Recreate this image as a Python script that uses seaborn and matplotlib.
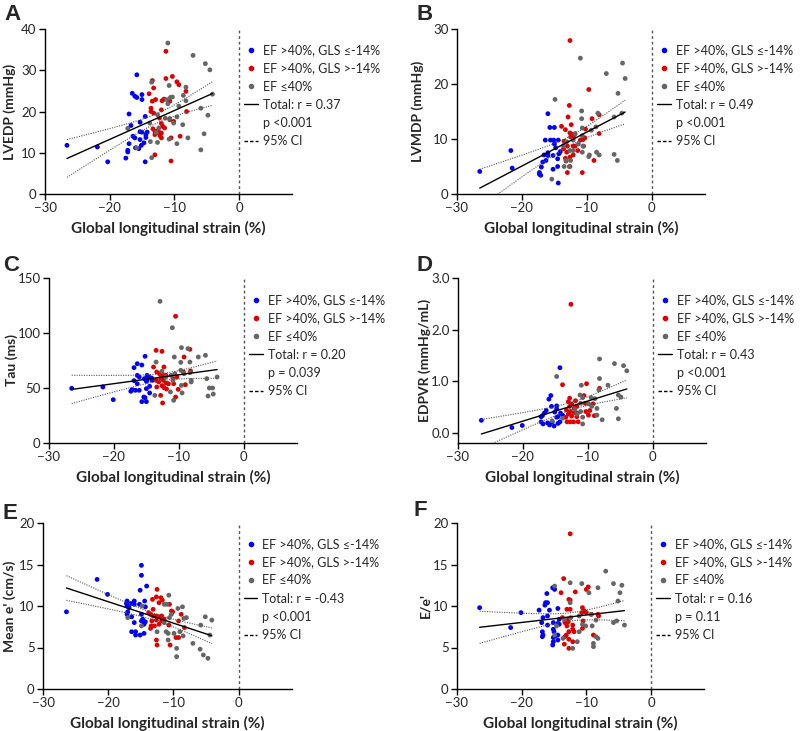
import numpy as np
import pandas as pd
import matplotlib
matplotlib.use("Agg")
import matplotlib.pyplot as plt
import seaborn as sns
from matplotlib.lines import Line2D

sns.set_style("ticks")
plt.rcParams['font.family'] = ['Lato', 'DejaVu Sans']

# ---------------- data ----------------
# Panel A: LVEDP (mmHg)
A_blue_x = [-26.6, -21.9, -20.3, -15.8, -16.5, -16.1, -15.8, -15.0, -15.0, -17.0, -16.7, -14.5, -15.3, -16.4, -16.1,
            -15.3, -15.0, -14.2, -14.4, -14.4, -15.3, -15.1, -14.7, -17.0, -17.2, -16.0, -17.2, -17.5, -14.5, -15.5]
A_blue_y = [11.8, 11.4, 7.8, 28.9, 24.4, 23.7, 23.4, 24.1, 22.9, 19.4, 16.6, 18.8, 17.4, 14.0, 13.6,
            15.1, 15.0, 15.0, 14.4, 13.7, 13.2, 11.8, 12.4, 12.2, 10.6, 11.2, 10.2, 8.7, 7.8, 11.0]
A_red_x = [-11.3, -11.3, -13.4, -13.2, -10.3, -9.6, -9.3, -8.2, -13.9, -13.4, -12.9, -11.6, -11.9, -10.7, -13.6,
           -13.6, -13.2, -12.0, -12.3, -10.7, -10.1, -8.1, -12.0, -11.8, -11.5, -13.3, -13.0, -12.5, -12.4, -12.0,
           -13.0, -12.2, -12.0, -10.5, -9.1, -13.0, -10.5]
A_red_y = [34.6, 28.0, 27.5, 25.7, 28.5, 27.2, 26.5, 24.9, 24.3, 22.5, 22.9, 23.0, 22.6, 22.5, 20.8,
           20.0, 19.6, 20.4, 18.4, 18.0, 17.6, 20.0, 17.1, 16.4, 16.0, 15.8, 15.2, 15.4, 14.8, 14.8,
           14.4, 14.1, 13.6, 13.6, 14.0, 9.5, 8.0]
A_grey_x = [-11.0, -7.1, -5.2, -4.5, -4.1, -8.2, -13.5, -10.8, -8.6, -10.3, -10.6, -11.2, -11.0, -8.2, -9.3,
            -5.9, -12.6, -4.8, -9.6, -11.4, -10.7, -10.1, -8.7, -13.8, -17.2, -12.4, -12.8, -5.4, -7.9, -10.8,
            -12.6, -9.6, -13.7, -15.8, -5.9, -13.5]
A_grey_y = [36.6, 33.6, 31.6, 30.1, 24.2, 25.9, 27.1, 26.3, 23.9, 23.5, 23.4, 22.9, 21.9, 22.6, 21.3,
            20.8, 19.2, 19.1, 18.7, 18.4, 18.3, 17.2, 16.8, 17.2, 15.9, 16.0, 14.9, 14.6, 13.6, 13.3,
            12.5, 12.2, 12.7, 11.2, 10.7, 8.8]

# Panel B: LVMDP (mmHg)
B_blue_x = [-26.5, -21.7, -21.5, -16.0, -15.7, -15.0, -16.4, -15.6, -15.1, -14.4, -15.0, -14.8, -14.1, -14.3, -16.0,
            -16.0, -16.6, -15.2, -16.3, -16.8, -17.0, -14.5, -14.5, -15.2, -17.3, -17.1, -17.3, -14.4]
B_blue_y = [4.1, 7.9, 4.7, 14.6, 12.1, 12.1, 9.8, 9.8, 9.8, 9.8, 9.1, 8.4, 7.7, 7.3, 7.5,
            7.0, 7.1, 7.0, 6.1, 5.8, 4.9, 6.4, 5.0, 4.5, 3.9, 3.4, 3.6, 2.0]
B_red_x = [-12.6, -9.7, -12.7, -12.4, -12.9, -13.9, -13.3, -12.6, -12.3, -11.9, -12.5, -12.1, -10.2, -9.2, -8.1,
           -8.1, -10.3, -10.6, -13.5, -13.0, -12.1, -11.8, -13.6, -10.5, -13.1, -12.1, -12.6, -13.3, -13.2, -12.6,
           -13.0, -10.7, -8.9, -11.4, -11.0]
B_red_y = [27.9, 19.0, 16.1, 12.6, 14.0, 12.3, 11.7, 11.1, 10.9, 10.8, 10.4, 10.3, 11.8, 13.7, 14.4,
           11.0, 10.2, 9.9, 9.6, 8.7, 8.7, 8.7, 8.2, 8.7, 7.6, 7.1, 6.7, 6.5, 6.0, 5.0,
           3.9, 3.9, 6.1, 7.9, 9.8]
B_grey_x = [-11.0, -7.0, -4.5, -4.1, -5.2, -4.6, -5.8, -14.9, -10.8, -8.3, -10.8, -10.7, -8.6, -9.3, -11.8,
            -10.7, -13.6, -11.3, -10.6, -12.6, -12.1, -10.7, -8.5, -8.1, -9.6, -9.7, -5.8, -5.3, -13.2, -12.5,
            -13.5, -12.7, -15.4, -13.1, -12.1]
B_grey_y = [24.7, 21.9, 23.8, 21.0, 18.3, 14.7, 14.0, 17.2, 15.1, 14.7, 13.7, 12.0, 12.2, 11.6, 11.0,
            10.6, 8.8, 9.1, 8.7, 7.9, 7.9, 7.6, 7.6, 7.1, 7.1, 6.8, 7.2, 6.1, 6.1, 6.1,
            5.0, 5.0, 2.7, 9.5, 9.8]

# Panel C: Tau (ms)
C_blue_x = [-26.5, -21.7, -20.1, -15.2, -16.4, -15.7, -16.9, -16.4, -16.1, -14.9, -14.6, -14.9, -14.2, -15.3, -15.0,
            -14.1, -16.9, -16.4, -14.5, -15.0, -17.2, -17.4, -16.7, -16.1, -14.5, -15.4, -15.2, -15.7, -15.0]
C_blue_y = [49.7, 50.9, 39.4, 78.8, 72.1, 70.9, 68.5, 61.5, 60.0, 61.5, 60.0, 57.0, 59.1, 58.5, 56.1,
            57.0, 56.7, 53.9, 51.5, 49.4, 48.5, 47.0, 47.9, 47.9, 45.5, 41.8, 41.2, 37.6, 37.6]
C_red_x = [-10.5, -13.5, -12.6, -8.3, -13.9, -12.3, -13.4, -13.0, -12.5, -12.0, -12.8, -13.5, -13.1, -12.4, -12.0,
           -11.6, -12.6, -13.4, -12.3, -11.9, -10.8, -10.9, -10.3, -9.3, -9.2, -9.0, -8.2, -10.1, -12.8, -10.5,
           -12.5]
C_red_y = [115.2, 84.2, 83.3, 85.2, 69.1, 69.1, 64.5, 63.0, 61.5, 61.5, 59.1, 57.0, 55.5, 57.0, 54.5,
           53.9, 52.1, 50.9, 50.3, 49.1, 53.9, 58.5, 60.0, 64.5, 78.2, 53.0, 65.5, 48.8, 43.3, 41.8,
           36.4]
C_grey_x = [-12.9, -11.0, -9.6, -8.6, -7.0, -5.9, -10.7, -13.5, -9.7, -8.3, -9.7, -8.3, -11.2, -10.6, -12.0,
            -9.2, -10.9, -8.1, -5.7, -4.1, -9.6, -11.3, -9.5, -10.8, -13.7, -5.3, -4.8, -5.5, -4.7, -12.6,
            -8.1]
C_grey_y = [128.8, 104.8, 86.7, 85.8, 78.2, 79.7, 78.2, 73.6, 73.3, 73.6, 66.1, 63.9, 61.5, 63.0, 60.0,
            63.0, 57.0, 57.0, 58.5, 60.0, 52.4, 46.4, 45.5, 38.8, 43.3, 50.0, 50.0, 42.7, 44.5, 65.2,
            55.5]

# Panel D: EDPVR (mmHg/mL)
D_blue_x = [-26.4, -21.7, -20.1, -14.3, -15.7, -16.0, -15.6, -16.4, -16.7, -17.0, -14.8, -14.8, -15.1, -14.2, -13.9,
            -14.8, -17.2, -16.9, -16.2, -15.9, -15.5, -15.2, -14.6, -14.3, -14.6, -17.2]
D_blue_y = [0.24, 0.10, 0.14, 1.26, 0.72, 0.65, 0.51, 0.43, 0.38, 0.33, 0.52, 0.46, 0.40, 0.38, 0.34,
            0.30, 0.21, 0.17, 0.19, 0.15, 0.21, 0.13, 0.18, 0.21, 0.31, 0.31]
D_red_x = [-12.6, -13.9, -10.2, -8.2, -10.6, -10.4, -9.2, -12.8, -13.0, -11.9, -12.5, -12.8, -12.1, -11.7, -13.3,
           -12.7, -12.1, -11.6, -13.0, -12.5, -11.7, -9.7, -10.3, -9.9, -9.0, -13.4, -13.2, -12.7, -12.2, -11.5]
D_red_y = [2.49, 0.93, 0.95, 0.86, 0.72, 0.57, 0.56, 0.67, 0.60, 0.62, 0.56, 0.51, 0.47, 0.51, 0.44,
           0.41, 0.39, 0.38, 0.36, 0.32, 0.31, 0.43, 0.41, 0.34, 0.33, 0.30, 0.21, 0.21, 0.21, 0.21]
D_grey_x = [-14.8, -8.2, -5.9, -4.5, -4.0, -8.2, -11.0, -6.9, -8.3, -11.2, -10.8, -9.5, -8.9, -5.3, -4.9,
            -11.1, -9.9, -9.4, -8.6, -5.6, -12.0, -11.1, -10.8, -8.6, -13.9, -15.5, -11.7, -7.8, -5.3, -10.8]
D_grey_y = [1.09, 1.43, 1.34, 1.30, 1.20, 1.05, 0.92, 0.92, 0.83, 0.73, 0.68, 0.68, 0.66, 0.73, 0.69,
            0.57, 0.56, 0.51, 0.47, 0.47, 0.45, 0.41, 0.30, 0.34, 0.28, 0.23, 0.36, 0.25, 0.27, 0.17]

# Panel E: Mean e' (cm/s)
E_blue_x = [-26.4, -21.7, -20.1, -14.9, -14.9, -14.1, -15.1, -17.1, -16.0, -17.2, -16.5, -16.0, -15.2, -14.4, -17.1,
            -16.8, -14.3, -17.0, -17.1, -14.9, -14.7, -16.4, -14.9, -14.3, -14.5, -16.0, -16.4, -15.8, -15.8, -15.1,
            -14.5]
E_blue_y = [9.3, 13.2, 11.4, 14.9, 13.7, 12.4, 11.9, 10.6, 10.6, 10.3, 10.3, 10.2, 10.2, 10.6, 10.0,
            9.8, 9.9, 9.3, 9.0, 9.0, 8.4, 8.7, 8.2, 8.1, 7.8, 8.0, 6.9, 6.9, 6.5, 6.5,
            6.7]
E_red_x = [-12.5, -12.6, -11.9, -13.2, -11.7, -12.2, -10.6, -13.1, -10.3, -10.1, -8.8, -13.8, -13.5, -13.1, -12.6,
           -12.2, -11.8, -13.3, -12.6, -11.4, -11.8, -9.2, -12.2, -13.4, -12.9, -13.5, -10.7, -8.3, -12.6, -12.5,
           -10.5, -9.6, -9.2]
E_red_y = [12.0, 11.1, 11.0, 10.8, 10.7, 10.4, 10.2, 9.6, 9.4, 9.3, 9.0, 9.2, 9.0, 8.8, 8.8,
           8.7, 8.8, 8.2, 8.3, 8.4, 8.2, 8.2, 7.8, 7.6, 7.6, 7.3, 7.7, 7.4, 5.9, 5.3,
           5.3, 6.2, 6.2]
E_grey_x = [-17.0, -14.8, -14.9, -10.7, -11.4, -11.0, -9.3, -8.6, -10.3, -8.4, -8.0, -11.4, -10.6, -12.5, -11.1,
            -10.8, -9.9, -8.5, -9.0, -5.8, -5.1, -4.1, -4.4, -7.0, -5.9, -5.4, -4.7, -9.5, -9.5, -10.8]
E_grey_y = [8.6, 10.0, 7.6, 11.3, 10.2, 10.2, 9.7, 9.9, 9.0, 8.5, 8.6, 8.0, 8.6, 6.9, 6.9,
            6.7, 6.7, 6.4, 6.9, 7.7, 8.7, 8.3, 6.5, 5.5, 4.8, 4.1, 3.7, 4.9, 3.9, 5.9]

# Panel F: E/e'
F_blue_x = [-26.5, -21.7, -20.1, -15.2, -14.9, -16.1, -16.3, -16.0, -16.4, -17.3, -15.7, -14.4, -16.7, -16.0, -14.2,
            -16.9, -16.0, -15.1, -14.4, -14.2, -15.1, -15.0, -16.8, -16.7, -16.8, -14.8, -15.1, -14.4, -14.4, -15.1,
            -15.2]
F_blue_y = [9.8, 7.4, 9.2, 12.2, 12.0, 11.5, 10.4, 10.4, 10.1, 9.5, 9.5, 9.7, 8.6, 8.8, 8.4,
            8.0, 7.7, 8.0, 7.9, 7.8, 7.2, 6.9, 6.9, 6.5, 6.3, 6.4, 6.2, 6.5, 5.9, 5.7,
            5.3]
F_red_x = [-12.5, -13.5, -13.9, -9.7, -10.0, -11.7, -12.7, -12.5, -13.0, -12.5, -10.6, -10.3, -10.7, -10.0, -9.2,
           -8.2, -8.1, -13.7, -13.0, -13.3, -12.8, -12.1, -13.0, -10.5, -10.6, -12.1, -11.9, -12.7, -13.1, -13.3,
           -12.7, -12.1, -13.4, -12.7, -8.9]
F_red_y = [18.7, 13.3, 11.6, 12.3, 12.0, 11.7, 10.8, 10.7, 9.6, 9.6, 9.8, 9.4, 9.2, 9.2, 9.0,
           9.0, 8.8, 8.6, 8.4, 8.0, 8.1, 7.7, 7.6, 8.2, 7.3, 7.2, 6.9, 6.9, 6.5, 6.3,
           6.0, 5.7, 5.4, 4.9, 6.5]
F_grey_x = [-12.5, -10.7, -7.0, -5.8, -4.5, -4.8, -8.2, -9.6, -14.9, -5.1, -12.5, -13.4, -12.4, -11.1, -9.3,
            -10.6, -10.1, -11.1, -11.4, -12.1, -8.9, -8.9, -8.5, -8.2, -8.5, -5.8, -5.3, -4.1, -14.6, -14.9,
            -13.6, -9.1]
F_grey_y = [12.8, 12.7, 14.2, 12.7, 12.5, 11.6, 12.2, 11.6, 12.4, 10.6, 10.4, 8.4, 8.6, 8.8, 9.0,
            7.8, 7.6, 6.9, 5.7, 4.9, 5.5, 5.1, 6.3, 6.1, 8.3, 8.0, 8.2, 7.7, 7.6, 6.5,
            6.1, 7.6]

group_names = ["EF >40%, GLS \u2264-14%", "EF >40%, GLS >-14%", "EF \u226440%"]
group_colors = ["#0000FF", "#E00000", "#666666"]

panel_letters = ["A", "B", "C", "D", "E", "F"]
y_labels = ["LVEDP (mmHg)", "LVMDP (mmHg)", "Tau (ms)", "EDPVR (mmHg/mL)", "Mean e' (cm/s)", "E/e'"]
y_limits = [(0, 40), (0, 30), (0, 150), (-0.2, 3.0), (0, 20), (0, 20)]
y_ticks = [[0, 10, 20, 30, 40], [0, 10, 20, 30], [0, 50, 100, 150], [0.0, 1.0, 2.0, 3.0],
           [0, 5, 10, 15, 20], [0, 5, 10, 15, 20]]
r_labels = ["Total: r = 0.37", "Total: r = 0.49", "Total: r = 0.20", "Total: r = 0.43",
            "Total: r = -0.43", "Total: r = 0.16"]
p_labels = ["p <0.001", "p <0.001", "p = 0.039", "p <0.001", "p <0.001", "p = 0.11"]
x_ticks = [-30, -20, -10, 0]
x_label = "Global longitudinal strain (%)"

panel_data = [
    (A_blue_x, A_blue_y, A_red_x, A_red_y, A_grey_x, A_grey_y),
    (B_blue_x, B_blue_y, B_red_x, B_red_y, B_grey_x, B_grey_y),
    (C_blue_x, C_blue_y, C_red_x, C_red_y, C_grey_x, C_grey_y),
    (D_blue_x, D_blue_y, D_red_x, D_red_y, D_grey_x, D_grey_y),
    (E_blue_x, E_blue_y, E_red_x, E_red_y, E_grey_x, E_grey_y),
    (F_blue_x, F_blue_y, F_red_x, F_red_y, F_grey_x, F_grey_y),
]

# ---------------- layout ----------------
W, H = 800, 731
fig = plt.figure(figsize=(W / 100, H / 100), dpi=100)
# axes boxes in pixels: left, top, right, bottom
boxes = [(45, 29, 292, 194), (457, 29, 705, 194),
         (49, 278, 297, 443), (458, 278, 706, 443),
         (43, 523, 292, 689), (457, 523, 704, 689)]
letter_pos = [(4, 4), (416, 4), (3, 255), (416, 255), (3, 503), (414, 500)]
ylabel_right = [16, 424, 18, 431, 16, 431]   # pixel x of the right edge of y labels
legend_top = [0.909, 0.909, 0.903, 0.903, 0.91, 0.91]

tick_fs = 9.5
leg_fs = 9.0
for i in range(6):
    l, t, r, b = boxes[i]
    ax = fig.add_axes([l / W, 1 - b / H, (r - l) / W, (b - t) / H])
    bx, by, rx, ry, gx, gy = panel_data[i]
    df = pd.DataFrame({
        "gls": list(bx) + list(rx) + list(gx),
        "val": list(by) + list(ry) + list(gy),
        "group": [group_names[0]] * len(bx) + [group_names[1]] * len(rx) + [group_names[2]] * len(gx),
    })
    sns.scatterplot(data=df, x="gls", y="val", hue="group", hue_order=group_names,
                    palette=group_colors, s=12, linewidth=0, legend=False, ax=ax, zorder=3)

    # linear regression with 95% CI of the mean
    x = df["gls"].to_numpy()
    y = df["val"].to_numpy()
    n = len(x)
    slope, intercept = np.polyfit(x, y, 1)
    xs = np.linspace(x.min(), x.max(), 100)
    yhat = intercept + slope * xs
    resid = y - (intercept + slope * x)
    s_err = np.sqrt(np.sum(resid ** 2) / (n - 2))
    sxx = np.sum((x - x.mean()) ** 2)
    ci = 1.984 * s_err * np.sqrt(1 / n + (xs - x.mean()) ** 2 / sxx)
    ax.plot(xs, yhat, color="black", lw=1.0, zorder=4)
    ax.plot(xs, yhat + ci, color="#555555", lw=0.8, ls=(0, (1, 1.2)), zorder=4)
    ax.plot(xs, yhat - ci, color="#555555", lw=0.8, ls=(0, (1, 1.2)), zorder=4)

    ax.axvline(0, color="#555555", lw=1.0, ls=(0, (2, 2)), zorder=1)

    ax.set_xlim(-30, 8.2)
    ax.set_ylim(*y_limits[i])
    ax.set_xticks(x_ticks)
    ax.set_yticks(y_ticks[i])
    if i == 3:
        ax.set_yticklabels([f"{v:.1f}" for v in y_ticks[i]])
    ax.tick_params(axis="both", labelsize=tick_fs, length=4, width=1, color="black", pad=2)
    for sp in ["top", "right"]:
        ax.spines[sp].set_visible(False)
    for sp in ["left", "bottom"]:
        ax.spines[sp].set_color("black")
        ax.spines[sp].set_linewidth(1.0)
    ax.set_xlabel(x_label, fontsize=11, fontweight="bold", labelpad=5)
    ax.set_ylabel(y_labels[i], fontsize=10, fontweight="bold")
    ax.yaxis.set_label_coords((ylabel_right[i] - l) / (r - l), 0.5)

    handles = [Line2D([], [], marker="o", ls="none", color=c, markersize=3.0) for c in group_colors]
    handles += [Line2D([], [], color="black", lw=1.0),
                Line2D([], [], ls="none"),
                Line2D([], [], color="black", lw=1.0, ls=(0, (2.5, 1.5)))]
    labels = group_names + [r_labels[i], p_labels[i], "95% CI"]
    ax.legend(handles, labels, loc="upper left", bbox_to_anchor=(0.806, legend_top[i]),
              frameon=False, fontsize=leg_fs, handlelength=1.1, handletextpad=0.4,
              labelspacing=0.5, borderaxespad=0, borderpad=0)

    fig.text(letter_pos[i][0] / W, 1 - letter_pos[i][1] / H, panel_letters[i],
             fontsize=16, fontweight="bold", family="Liberation Sans", va="top", ha="left")

fig.savefig("out.png", dpi=100)
